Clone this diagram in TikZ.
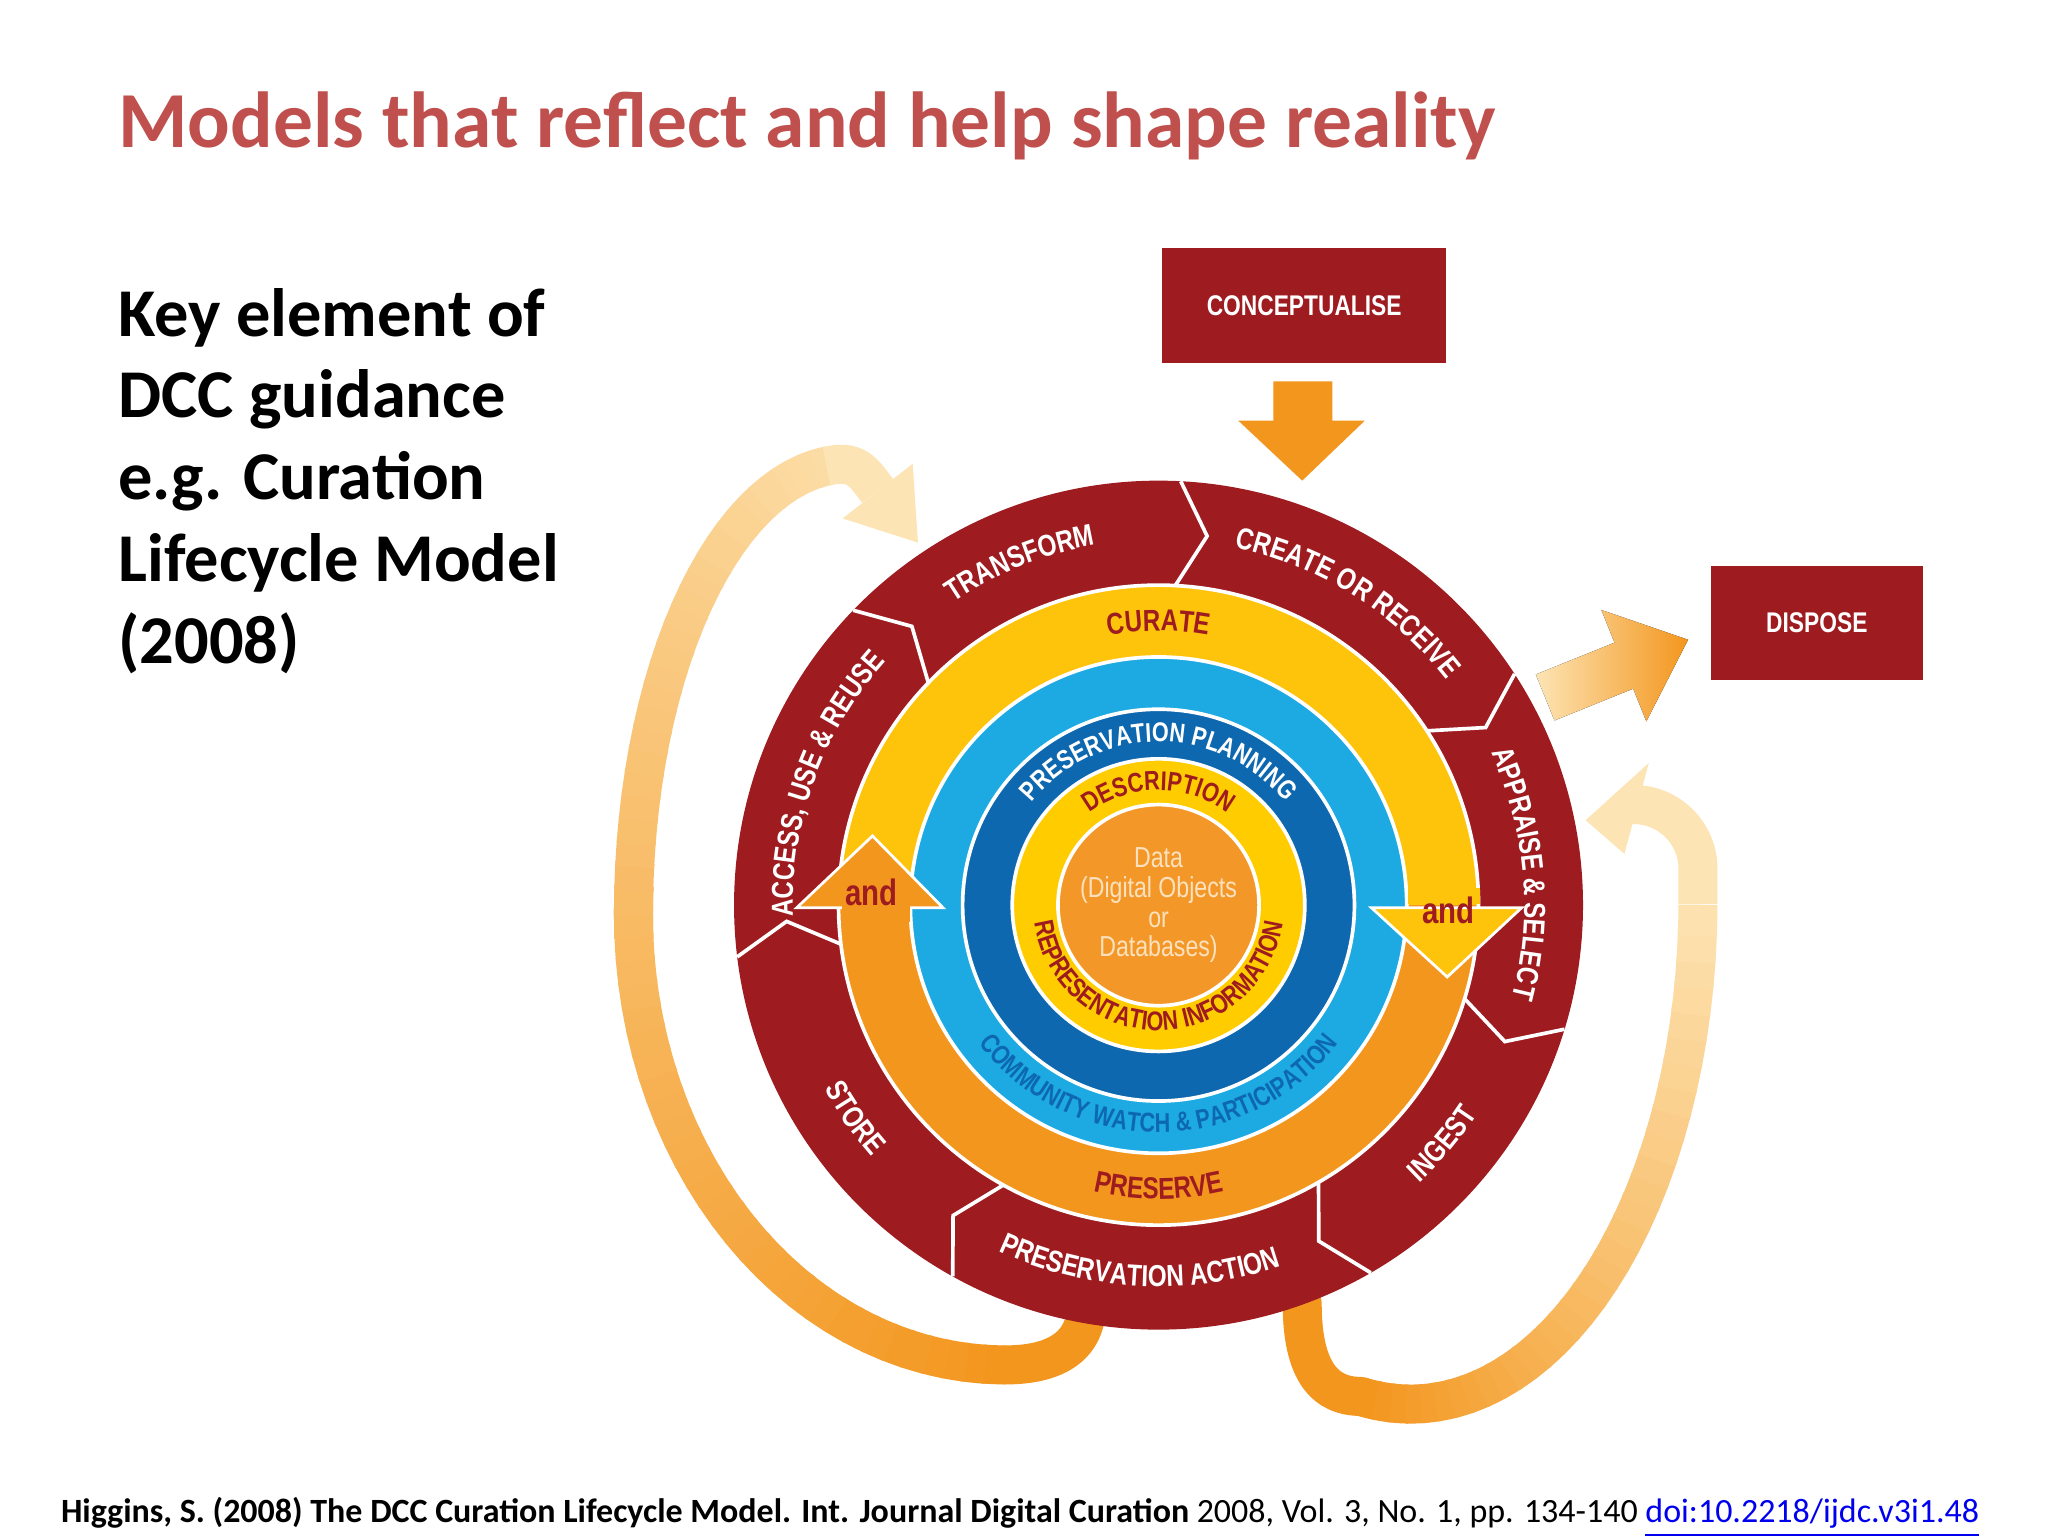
\documentclass[tikz,border=0pt]{standalone}
\usepackage{fontspec}
\setmainfont{Carlito}
\newfontfamily\dfont[FakeStretch=0.8]{Liberation Sans}
\usetikzlibrary{decorations.text,calc}
\definecolor{dred}{RGB}{158,27,32}
\definecolor{yel}{RGB}{253,196,11}
\definecolor{org}{RGB}{243,150,30}
\definecolor{lblue}{RGB}{29,170,226}
\definecolor{dblue}{RGB}{14,104,176}
\definecolor{iyel}{RGB}{255,204,0}
\definecolor{corg}{RGB}{243,152,40}
\definecolor{pale}{RGB}{253,228,180}
\definecolor{titlec}{RGB}{192,80,77}
\definecolor{cream}{RGB}{252,225,190}
\definecolor{lnk}{RGB}{0,0,238}
\newcommand\lab{\dfont\bfseries\fontsize{6.6}{7}\selectfont}
\newcommand\labs{\dfont\bfseries\fontsize{5.9}{6.5}\selectfont}
\newcommand\labb{\dfont\bfseries\fontsize{6.2}{7}\selectfont}
\tikzset{
  ringtext/.style={decorate,decoration={text along path,text align=center,text color=#1}},
  box/.style={fill=dred,text=white,font=\labb,minimum width=21.7mm,minimum height=8.8mm,inner sep=0pt},
  sep/.style={white,line width=0.8pt},
  band/.style={line width=8.5pt},
}
\begin{document}
\begin{tikzpicture}[x=0.1mm,y=0.1mm]
\useasboundingbox (0,0) rectangle (1568,1176);
\fill[white] (0,0) rectangle (1568,1176);
\coordinate (C) at (887,483);
% migrate band
\draw[band,org,line cap=round] (832,178) .. controls (832,140) and (800,131) .. (770,131);
\foreach \t [evaluate=\t as \p using {int((\t-80)/1.9)}] in {270,267,...,180}
  \draw[band,org!\p!pale] ($(770,476)+(\t:285 and 345)$) arc[start angle=\t,end angle=\t-3.6,x radius=285,y radius=345];
\foreach \t [evaluate=\t as \p using {int((\t-80)/1.9)}] in {183,180,...,99}
  \draw[band,org!\p!pale] ($(650,476)+(\t:165 and 345)$) arc[start angle=\t,end angle=\t-3.6,x radius=165,y radius=345];
\coordinate (ME) at (672,800);
\draw[band,pale] ($(650,476)+(96:165 and 345)$) .. controls (655,824) and (660,816) .. (ME);
\fill[pale] ($(ME)+(38:34)$) -- ($(ME)+(218:34)$) -- ($(ME)+(-52:50)$) -- cycle;
% reappraise band
\draw[band,org,line cap=round] (997,178) .. controls (997,125) and (1015,107) .. ($(1080,486)+(260:220 and 385)$);
\foreach \t [evaluate=\t as \p using {int((360-\t))}] in {260,263,...,357}
  \draw[band,org!\p!pale] ($(1080,486)+(\t:220 and 385)$) arc[start angle=\t,end angle=\t+3.6,x radius=220,y radius=385];
\draw[band,pale,rounded corners=14] (1300,484) -- (1300,560) -- (1250,560);
\coordinate (RE) at (1253,557);
\fill[pale] ($(RE)+(75:36)$) -- ($(RE)+(255:36)$) -- ($(RE)+(193:40)$) -- cycle;
% rings
\fill[dred] (C) circle (325);
\fill[yel] (C) circle (245);
\fill[org] ([shift={(180:245)}]C) arc[start angle=180,end angle=360,radius=245] -- cycle;
\draw[sep] (C) circle (245);
\fill[lblue] (C) circle (190);
\draw[sep] (C) circle (190);
\fill[dblue] (C) circle (150);
\draw[sep] (C) circle (150);
\fill[iyel] (C) circle (112);
\draw[sep] (C) circle (112);
\fill[corg] (C) circle (77);
\draw[sep] (C) circle (77);
% and arrowheads
\filldraw[fill=org,draw=white,line width=0.6pt] (610,481) -- (668,536) -- (722,481) -- cycle;
\filldraw[fill=yel,draw=white,line width=0.6pt] (1050,481) -- (1108,428) -- (1165,481) -- cycle;
\fill[org] (645,483) rectangle (697,470);
\fill[yel] (1078,484) rectangle (1133,496);
\node[font=\dfont\bfseries\fontsize{8}{9}\selectfont,text=dred] (and1) at (667,493) {and};
\node[font=\dfont\bfseries\fontsize{8}{9}\selectfont,text=dred] (and2) at (1109,479) {and};
% chevrons
\foreach \a in {87,33,-17,-60,-119,-173,136}
  \draw[white,line width=0.8pt] ([shift={(\a:325)}]C) -- ([shift={(\a-4.5:285)}]C) -- ([shift={(\a:245)}]C);
% ring labels
\path[ringtext=white,decoration={text={|\lab|TRANSFORM}}] ([shift={(140:280)}]C) arc[start angle=140,end angle=84,radius=280];
\path[ringtext=white,decoration={text={|\lab|CREATE OR RECEIVE}}] ([shift={(86:280)}]C) arc[start angle=86,end angle=30,radius=280];
\path[ringtext=white,decoration={text={|\lab|APPRAISE {\&} SELECT}}] ([shift={(31:280)}]C) arc[start angle=31,end angle=-21,radius=280];
\path[ringtext=white,decoration={text={|\lab|INGEST}}] ([shift={(-64:292)}]C) arc[start angle=-64,end angle=-16,radius=292];
\path[ringtext=white,decoration={text={|\lab|PRESERVATION ACTION}}] ([shift={(-123:292)}]C) arc[start angle=-123,end angle=-63,radius=292];
\path[ringtext=white,decoration={text={|\lab|STORE}}] ([shift={(-172:292)}]C) arc[start angle=-172,end angle=-118,radius=292];
\path[ringtext=white,decoration={text={|\lab|ACCESS, USE {\&} REUSE}}] ([shift={(195:280)}]C) arc[start angle=195,end angle=125,radius=280];
\path[ringtext=dred,decoration={text={|\lab|CURATE}}] ([shift={(110:210)}]C) arc[start angle=110,end angle=70,radius=210];
\path[ringtext=dred,decoration={text={|\lab|PRESERVE}}] ([shift={(-115:225)}]C) arc[start angle=-115,end angle=-65,radius=225];
\path[ringtext=white,decoration={text={|\labs|PRESERVATION PLANNING}}] ([shift={(160:125)}]C) arc[start angle=160,end angle=20,radius=125];
\path[ringtext=dred,decoration={text={|\labs|DESCRIPTION}}] ([shift={(135:88)}]C) arc[start angle=135,end angle=45,radius=88];
\path[ringtext=dblue,decoration={text={|\labs|COMMUNITY WATCH {\&} PARTICIPATION}}] ([shift={(-155:174)}]C) arc[start angle=-155,end angle=-25,radius=174];
\path[ringtext=dred,decoration={text={|\labs|REPRESENTATION INFORMATION}}] ([shift={(-178:96)}]C) arc[start angle=-178,end angle=-2,radius=96];
\node[font=\dfont\fontsize{6.3}{6.5}\selectfont,text=cream,align=center] (data) at (C) {Data\\(Digital Objects\\or\\Databases)};
% conceptualise
\node[box] (concept) at (998.5,942) {CONCEPTUALISE};
\fill[org] (975,884) -- (1020,884) -- (1020,854) -- (1045,854) -- (997,808) -- (948,854) -- (975,854) -- cycle;
% dispose
\node[box,minimum width=16.2mm,minimum height=8.7mm] (dispose) at (1391,699) {DISPOSE};
\begin{scope}[shift={(1183,642)},rotate=22]
\fill[left color=pale,right color=org] (0,-19) -- (65,-19) -- (65,-46) -- (118,0) -- (65,46) -- (65,19) -- (0,19) -- cycle;
\end{scope}
% texts
\node[anchor=base west,font=\bfseries\fontsize{17.3}{21}\selectfont,text=titlec,inner sep=0pt] (title) at (90,1063) {Models that reflect and help shape reality};
\node[anchor=north west,align=left,font=\bfseries\fontsize{14.9}{17.8}\selectfont,inner sep=0pt] (key) at (90,956) {Key element of\\DCC guidance\\e.g. Curation\\Lifecycle Model\\(2008)};
\node[anchor=base west,font=\fontsize{7.4}{8}\selectfont,inner sep=0pt] (foot) at (46,10) {\textbf{Higgins, S. (2008) The DCC Curation Lifecycle Model. Int. Journal Digital Curation} 2008, Vol. 3, No. 1, pp. 134-140 \textcolor{lnk}{\underline{doi:10.2218/ijdc.v3i1.48}}};
\end{tikzpicture}
\end{document}
